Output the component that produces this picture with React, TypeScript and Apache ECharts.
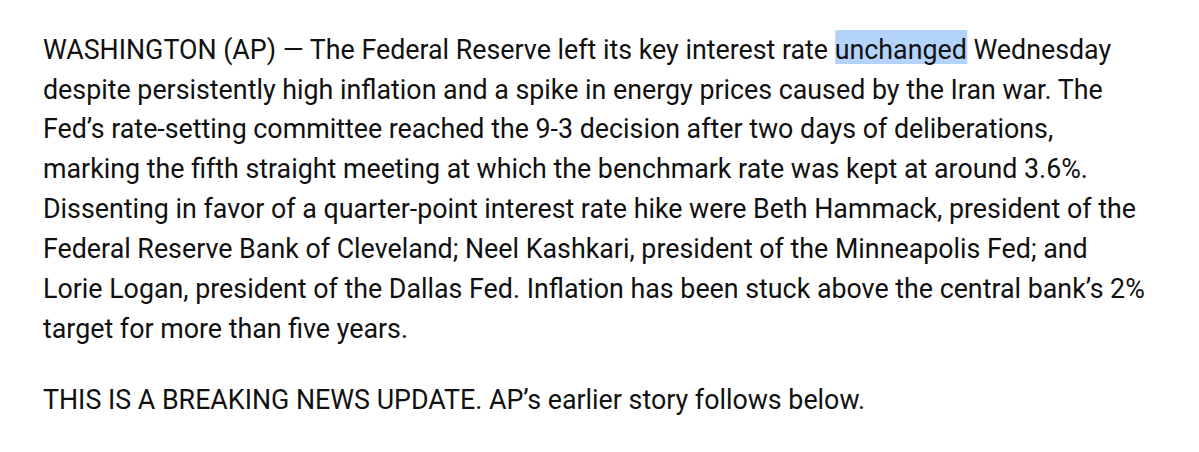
import * as echarts from "echarts";
import { useEffect, useRef } from "react";

// paragraph lines, as they wrap in the picture
const paragraph = [
  "WASHINGTON (AP) \u2014 The Federal Reserve left its key interest rate unchanged Wednesday",
  "despite persistently high inflation and a spike in energy prices caused by the Iran war. The",
  "Fed\u2019s rate-setting committee reached the 9-3 decision after two days of deliberations,",
  "marking the fifth straight meeting at which the benchmark rate was kept at around 3.6%.",
  "Dissenting in favor of a quarter-point interest rate hike were Beth Hammack, president of the",
  "Federal Reserve Bank of Cleveland; Neel Kashkari, president of the Minneapolis Fed; and",
  "Lorie Logan, president of the Dallas Fed. Inflation has been stuck above the central bank\u2019s 2%",
  "target for more than five years.",
];
const footer = "THIS IS A BREAKING NEWS UPDATE. AP\u2019s earlier story follows below.";
const highlighted = "unchanged";

const FAMILY = "Roboto, 'Noto Sans', sans-serif";
const LEFT = 43;
const FIRST_BASELINE = 57.7;
const LINE_STEP = 39.9;
const FOOTER_BASELINE = 408.4;
const FIRST_LINE_WIDTH = 1069;

function measure(text: string, size: number) {
  const ctx = document.createElement("canvas").getContext("2d")!;
  ctx.font = `${size}px ${FAMILY}`;
  return ctx.measureText(text).width;
}

export default function App() {
  const chartRef = useRef<HTMLDivElement>(null);
  useEffect(() => {
    const chart = echarts.init(chartRef.current, null, { renderer: "svg" });
    // font size chosen so the first line spans the same width as in the picture
    const fontSize = (100 * FIRST_LINE_WIDTH) / measure(paragraph[0], 100);
    const font = `${fontSize}px ${FAMILY}`;
    const toMiddle = (baseline: number) => baseline - fontSize * 0.3;

    const first = paragraph[0];
    const idx = first.indexOf(highlighted);
    const hx = LEFT + measure(first.slice(0, idx), fontSize);
    const hw = measure(highlighted, fontSize);

    const elements: any[] = [
      {
        type: "rect",
        z: 1,
        shape: { x: hx, y: 30, width: hw, height: 34 },
        style: { fill: "#b4d3fa" },
      },
    ];
    paragraph.forEach((line, i) => {
      elements.push({
        type: "text",
        z: 2,
        x: LEFT,
        y: toMiddle(FIRST_BASELINE + i * LINE_STEP),
        style: { text: line, font, fill: "#111111", verticalAlign: "middle" },
      });
    });
    elements.push({
      type: "text",
      z: 2,
      x: LEFT,
      y: toMiddle(FOOTER_BASELINE),
      style: { text: footer, font, fill: "#111111", verticalAlign: "middle" },
    });

    chart.setOption({
      animation: false,
      backgroundColor: "#ffffff",
      graphic: { elements },
    });
    return () => {
      chart.dispose();
    };
  }, []);

  return (
    <div
      ref={chartRef}
      style={{ position: "fixed", left: 0, top: 0, width: "1199px", height: "452px" }}
    />
  );
}
